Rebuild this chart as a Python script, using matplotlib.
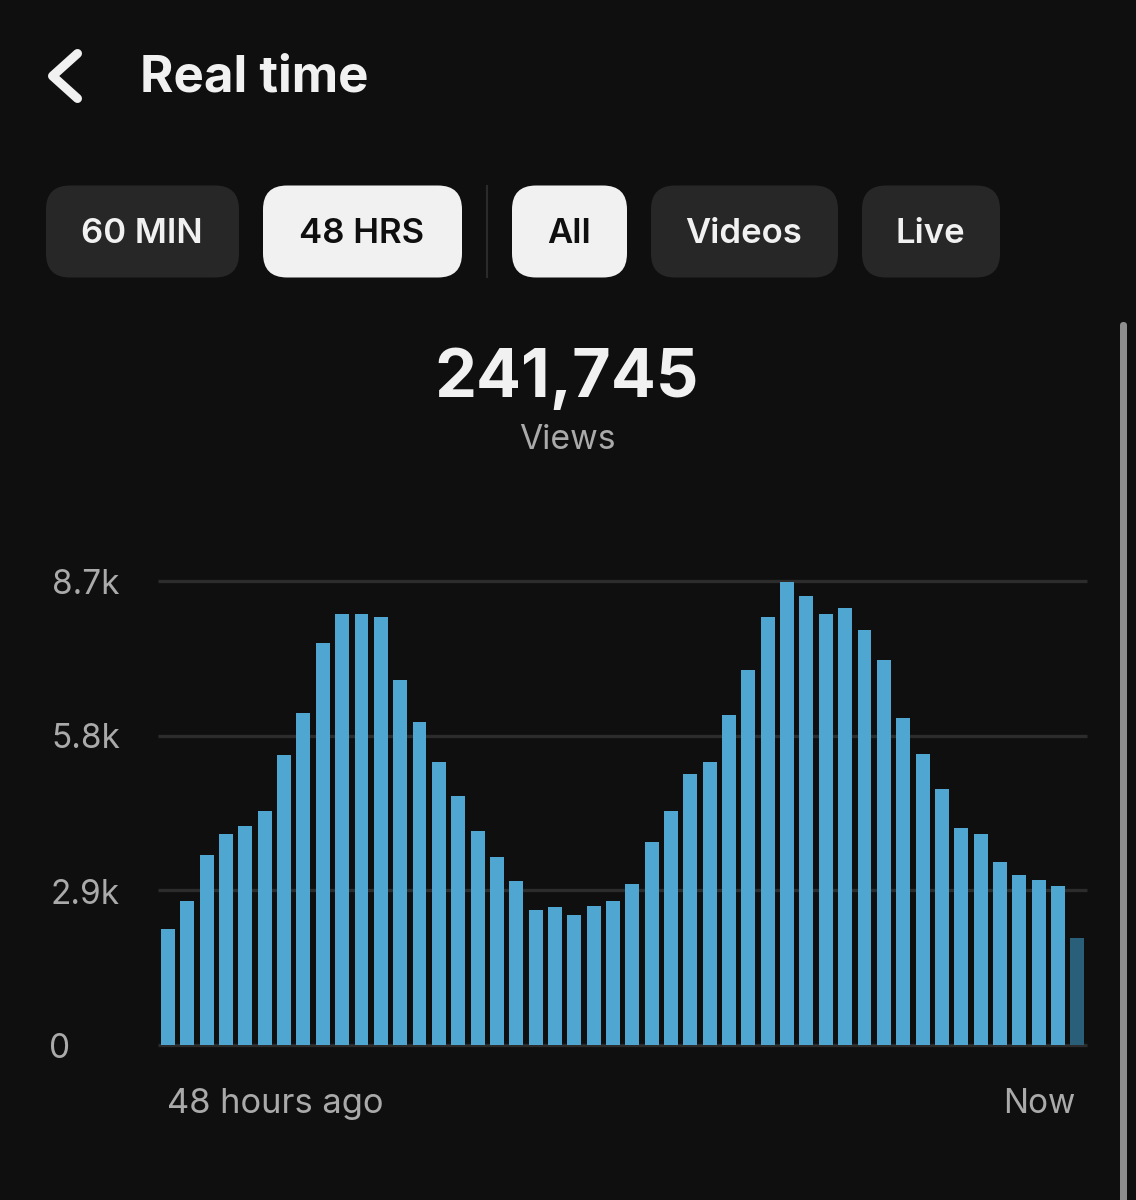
import numpy as np
import matplotlib
matplotlib.use("Agg")
import matplotlib.pyplot as plt
from matplotlib.patches import FancyBboxPatch

views = [2175, 2700, 3563, 3956, 4106, 4388, 5438, 6225, 7538, 8081, 8081, 8025,
         6844, 6056, 5306, 4669, 4013, 3525, 3075, 2531, 2588, 2438, 2606, 2700,
         3019, 3806, 4388, 5081, 5306, 6188, 7031, 8025, 8681, 8419, 8081, 8194,
         7781, 7219, 6131, 5456, 4800, 4069, 3956, 3431, 3188, 3094, 2981, 2006]
tick_vals = [0, 2900, 5800, 8700]
tick_labels = ["0", "2.9k", "5.8k", "8.7k"]
buttons = ["60 MIN", "48 HRS", "All", "Videos", "Live"]
active = ["48 HRS", "All"]

W, H = 1136, 1200
BG = "#0f0f0f"
BLUE = "#4fa6d1"
DIM = "#2a5f79"
GREY = "#aaaaaa"
FONT = "Inter"

fig = plt.figure(figsize=(W / 100, H / 100), dpi=100, facecolor=BG)

# overlay in pixel coordinates for the app chrome
ui = fig.add_axes([0, 0, 1, 1], zorder=1)
ui.set_xlim(0, W)
ui.set_ylim(H, 0)
ui.axis("off")

ui.plot([77.5, 52.5, 77.5], [53.5, 76, 98.5], color="#f1f1f1", lw=6.5, solid_capstyle="round", solid_joinstyle="round")
ui.text(139.5, 78, "Real time", color="#f1f1f1", fontsize=36.7, fontweight="bold", family=FONT, va="center", ha="left")

boxes = [(46, 239), (263, 462), (512, 627), (651, 838), (862, 1000)]
for name, (x0, x1) in zip(buttons, boxes):
    on = name in active
    r = 24
    ui.add_patch(FancyBboxPatch((x0 + r, 185.5 + r), x1 - x0 - 2 * r, 92 - 2 * r,
                                boxstyle=f"round,pad={r},rounding_size={r}",
                                fc="#f1f1f1" if on else "#272727", ec="none"))
    ui.text((x0 + x1) / 2 - 0.5, 234, name, color="#0f0f0f" if on else "#f1f1f1",
            fontsize=25, fontweight="semibold", family=FONT, ha="center", va="center")
ui.plot([486.5, 486.5], [186, 277], color="#2b2b2b", lw=1.5)

ui.text(567, 380, "241,745", color="#f1f1f1", fontsize=48, fontweight="bold", family=FONT, ha="center", va="center")
ui.text(567, 440, "Views", color=GREY, fontsize=24.3, family=FONT, ha="center", va="center")

# scrollbar
ui.add_patch(FancyBboxPatch((1120, 322), 7, 900, boxstyle="round,pad=0,rounding_size=3.5", fc="#8e8e8e", ec="none"))

for lab, y in zip(tick_labels, [1045, 891, 735, 581]):
    x = 59.5 if lab == "0" else 85.5
    ui.text(x, y + 4, lab, color=GREY, fontsize=24, family=FONT, ha="center", va="center")
ui.text(167, 1104, "48 hours ago", color=GREY, fontsize=24.8, family=FONT, ha="left", va="center")
ui.text(1075, 1104, "Now", color=GREY, fontsize=24, family=FONT, ha="right", va="center")

# bar chart
ax = fig.add_axes([158 / W, 1 - 1045 / H, 929 / W, 464 / H], zorder=2)
ax.patch.set_alpha(0)
x = np.arange(len(views))
colors = [BLUE] * (len(views) - 1) + [DIM]
ax.set_axisbelow(True)
ax.yaxis.grid(True, color="#2c2c2c", lw=2.4)
ax.bar(x, views, width=0.72, color=colors, zorder=3)
ax.set_xlim(-0.517, 47.5)
ax.set_ylim(0, 8700)
ax.set_yticks(tick_vals)
ax.tick_params(left=False, bottom=False, labelleft=False, labelbottom=False)
ax.set_xticks([])
for g in ax.get_ygridlines():
    g.set_clip_on(False)
    g.set_solid_capstyle("butt")
for s in ax.spines.values():
    s.set_visible(False)

fig.savefig("out.png", dpi=100, facecolor=BG)
